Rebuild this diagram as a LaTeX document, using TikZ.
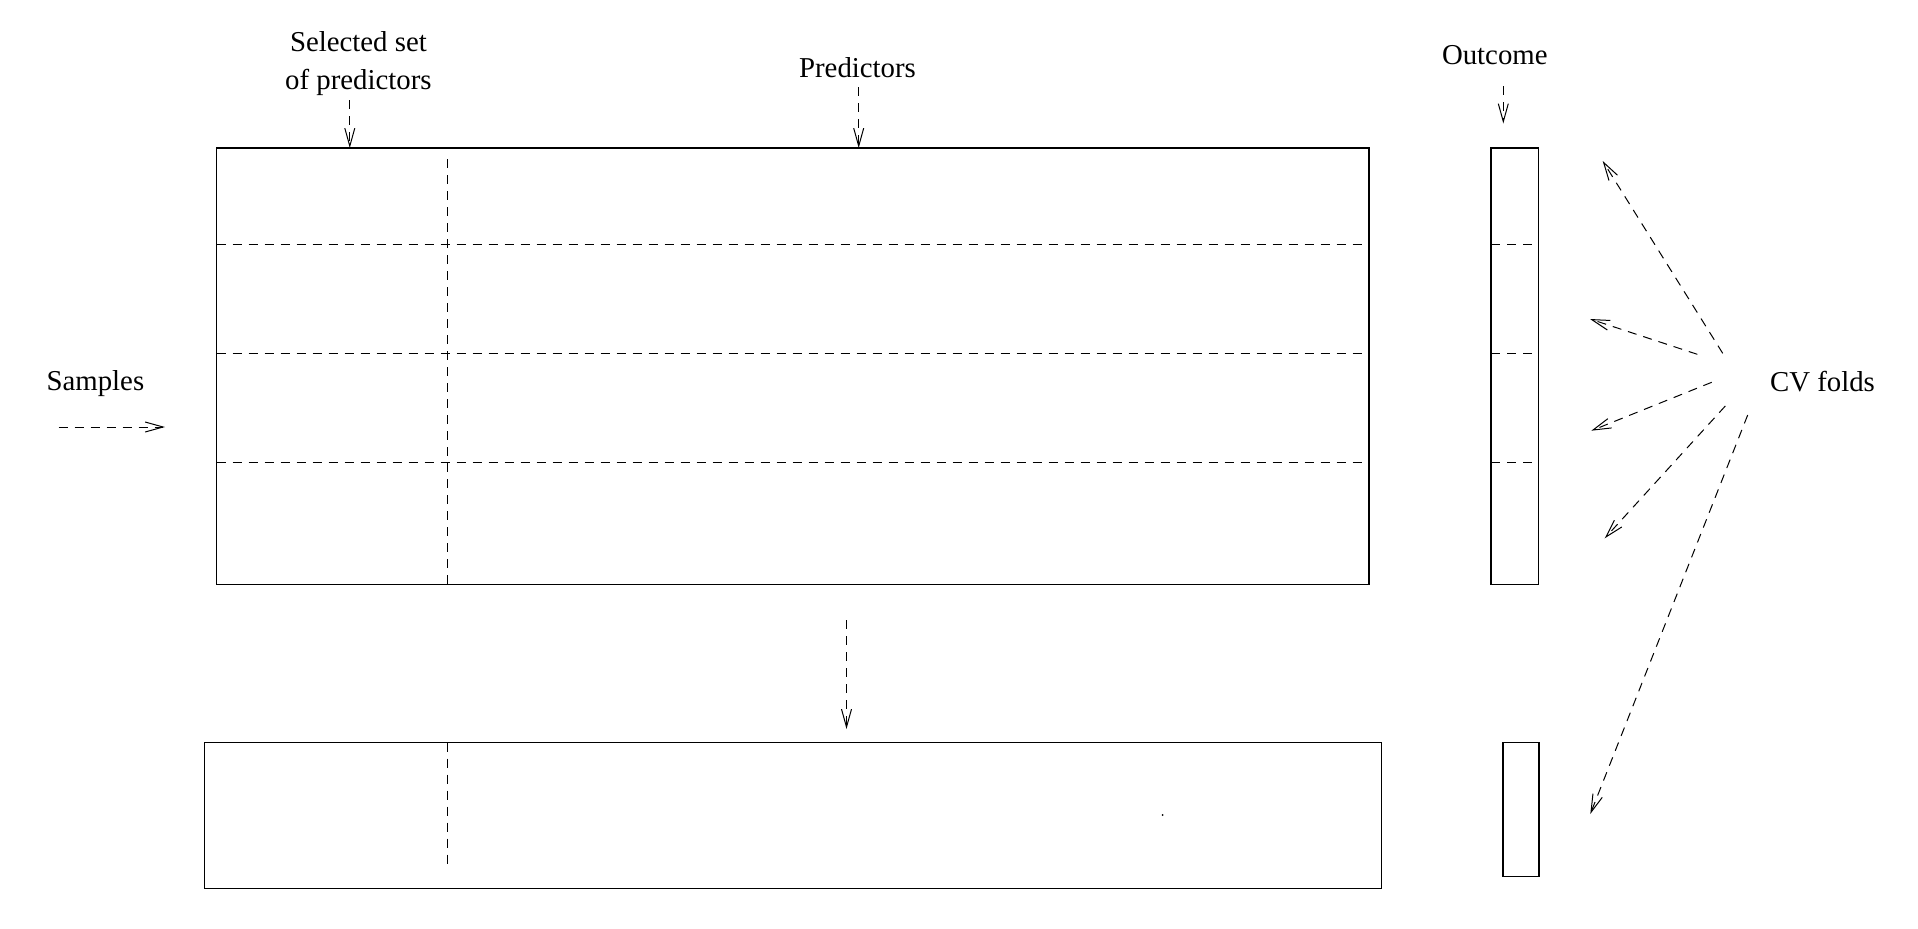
\documentclass[tikz,border=0pt]{standalone}
\usepackage{fontspec}
\setmainfont{Liberation Serif}
\usetikzlibrary{arrows.meta, positioning}

\begin{document}
\begin{tikzpicture}[
    x=0.5pt, y=-0.5pt,
    label node/.style={font=\fontsize{14.4}{19}\selectfont, inner sep=0pt, align=center},
    box/.style={draw, line width=0.6pt, inner sep=0pt, outer sep=0pt, anchor=north west},
    dashline/.style={dash pattern=on 4.5pt off 3.5pt, line width=0.5pt},
    arrow/.style={-{Straight Barb[length=9pt, width=5pt]}, dashline}
    ]

    \useasboundingbox (0,0) rectangle (1918,928);

    % data matrix and outcome
    \node[box, minimum width=576.2pt, minimum height=218.4pt] (data) at (216.5,148) {};
    \node[box, minimum width=23.9pt, minimum height=218.4pt] (outc) at (1491,148) {};

    % reduced matrix
    \node[box, minimum width=588.4pt, minimum height=72.8pt] (sub) at (204.3,742.5) {};
    \node[box, minimum width=18pt, minimum height=66.8pt] (suboutc) at (1503,742.5) {};

    % folds
    \draw[dashline] (data.west |- 0,244.6) -- (data.east |- 0,244.6);
    \draw[dashline] (data.west |- 0,353.5) -- (data.east |- 0,353.5);
    \draw[dashline] (data.west |- 0,462.4) -- (data.east |- 0,462.4);
    \draw[dashline] (outc.west |- 0,244.6) -- (outc.east |- 0,244.6);
    \draw[dashline] (outc.west |- 0,353.5) -- (outc.east |- 0,353.5);
    \draw[dashline] (outc.west |- 0,462.4) -- (outc.east |- 0,462.4);

    % selected columns
    \coordinate (selcol) at (447.7,159);
    \draw[dashline] (selcol) -- (selcol |- data.south);
    \draw[dashline] (263,584.7) -- (471,584.7);
    \coordinate (subcol) at (447.7,870);
    \draw[dashline] (subcol |- sub.north) -- (subcol);
    \fill (1162.7,815) circle (0.5pt);

    % labels
    \node[label node] (sel) at (358.4,63.6) {Selected set\\of predictors};
    \node[label node, anchor=base] (pred) at (857.5,77) {Predictors};
    \node[label node, anchor=base] (outl) at (1494.8,64.8) {Outcome};
    \node[label node, anchor=base] (samp) at (95.4,390) {Samples};
    \node[label node, anchor=base] (cv) at (1822.5,391) {CV folds};

    % arrow ends
    \coordinate (sel-s) at (349.8,100);
    \coordinate (pred-s) at (858.7,87);
    \coordinate (outl-s) at (1503.3,86);
    \coordinate (outl-e) at (1503.3,123.5);
    \coordinate (samp-s) at (58.7,427);
    \coordinate (samp-e) at (165,427);
    \coordinate (down-s) at (846.5,620);
    \coordinate (down-e) at (846.5,729);
    \coordinate (f1s) at (1722.7,353.3);
    \coordinate (f1e) at (1602.7,161);
    \coordinate (f2s) at (1697.3,354.3);
    \coordinate (f2e) at (1590,319);
    \coordinate (f3s) at (1711.7,382.3);
    \coordinate (f3e) at (1591.3,430.7);
    \coordinate (f4s) at (1725.3,406);
    \coordinate (f4e) at (1604.7,538.3);
    \coordinate (f5s) at (1747.7,415);
    \coordinate (f5e) at (1590.3,814);

    % arrows
    \draw[arrow] (sel-s) -- (sel-s |- data.north);
    \draw[arrow] (pred-s) -- (pred-s |- data.north);
    \draw[arrow] (outl-s) -- (outl-e);
    \draw[arrow] (samp-s) -- (samp-e);
    \draw[arrow] (down-s) -- (down-e);

    % CV fold arrows
    \draw[arrow] (f1s) -- (f1e);
    \draw[arrow] (f2s) -- (f2e);
    \draw[arrow] (f3s) -- (f3e);
    \draw[arrow] (f4s) -- (f4e);
    \draw[arrow] (f5s) -- (f5e);

\end{tikzpicture}
\end{document}
